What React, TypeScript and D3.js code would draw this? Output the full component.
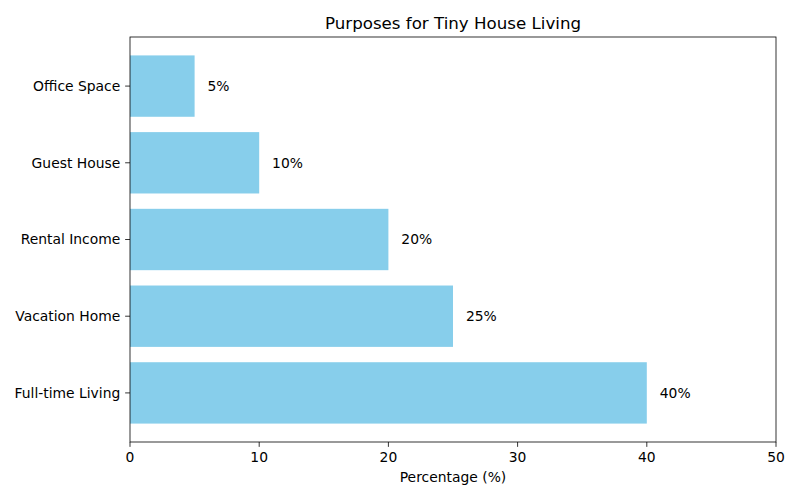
import React from "react";
import * as d3 from "d3";

const categories = ["Full-time Living", "Vacation Home", "Rental Income", "Guest House", "Office Space"];
const values = [40, 25, 20, 10, 5];
const xTicks = [0, 10, 20, 30, 40, 50];

const W = 800, H = 500;
const L = 130, R = 776, T = 37, B = 442;
const font = "DejaVu Sans, sans-serif";
const fs = 13.89;
const tl = 4.86;

export default function App() {
  const x = d3.scaleLinear().domain([0, 50]).range([L, R]);
  const y = d3.scaleLinear().domain([-0.64, 4.64]).range([B, T]);
  const bh = y(0) - y(0.8);
  return (
    <svg width={W} height={H} style={{ position: "absolute", left: 0, top: 0 }} fontFamily={font}>
      <rect x={0} y={0} width={W} height={H} fill="white" />
      {categories.map((c, i) => (
        <g key={c}>
          <rect x={x(0)} y={y(i) - bh / 2} width={x(values[i]) - x(0)} height={bh} fill="#87CEEB" />
          <text x={x(values[i] + 1)} y={y(i)} dy="0.35em" fontSize={fs} fill="black">{values[i]}%</text>
          <line x1={L - tl} x2={L} y1={y(i)} y2={y(i)} stroke="black" strokeWidth={0.8} />
          <text x={L - tl - tl} y={y(i)} dy="0.35em" textAnchor="end" fontSize={fs} fill="black">{c}</text>
        </g>
      ))}
      {xTicks.map((t) => (
        <g key={t}>
          <line x1={x(t)} x2={x(t)} y1={B} y2={B + tl} stroke="black" strokeWidth={0.8} />
          <text x={x(t)} y={B + tl + tl} dy="0.76em" textAnchor="middle" fontSize={fs} fill="black">{t}</text>
        </g>
      ))}
      <rect x={L} y={T} width={R - L} height={B - T} fill="none" stroke="black" strokeWidth={0.8} />
      <text x={(L + R) / 2} y={482} textAnchor="middle" fontSize={fs} fill="black">Percentage (%)</text>
      <text x={(L + R) / 2} y={29} textAnchor="middle" fontSize={16.67} fill="black">Purposes for Tiny House Living</text>
    </svg>
  );
}
